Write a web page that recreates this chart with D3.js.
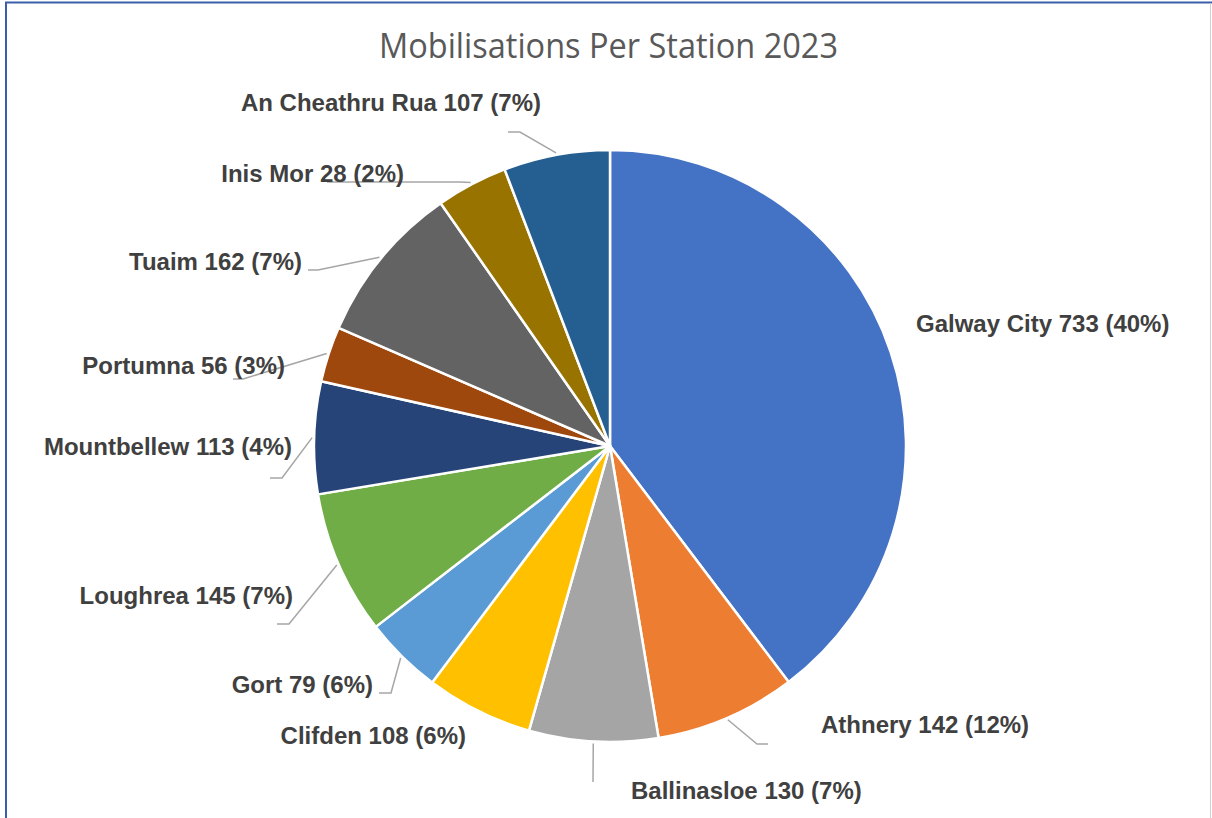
<!DOCTYPE html>
<html>
<head>
  <meta charset="UTF-8">
  <title>Mobilisations Per Station 2023</title>
  <script src="https://cdnjs.cloudflare.com/ajax/libs/d3/7.8.5/d3.min.js"></script>
<style type="text/css">
  html, body {
    margin: 0;
    padding: 0;
    background: #fff;
  }
  svg#pie-chart {
    display: block;
  }
  .title {
    font-family: "Open Sans", "Liberation Sans", sans-serif;
    font-size: 35px;
    fill: #595959;
  }
  .slice-label {
    font-family: "Liberation Sans", Arial, sans-serif;
    font-weight: bold;
    font-size: 24px;
    fill: #404040;
  }
</style>
</head>
<body>
  <svg id="pie-chart"></svg>

<script type="text/javascript">
// Stations, in the order the slices run clockwise from 12 o'clock
var stations = ["Galway City", "Athnery", "Ballinasloe", "Clifden", "Gort", "Loughrea",
                "Mountbellew", "Portumna", "Tuaim", "Inis Mor", "An Cheathru Rua"];
// Numbers printed in the data labels
var labelCounts = [733, 142, 130, 108, 79, 145, 113, 56, 162, 28, 107];
var labelPercents = ["40%", "12%", "7%", "6%", "6%", "7%", "4%", "3%", "7%", "2%", "7%"];
// Slice sizes as drawn (Inis Mor's slice is wider than its label says)
var sliceValues = [733, 142, 130, 108, 79, 145, 113, 56, 162, 72, 107];
var sliceColours = ["#4472C4", "#ED7D31", "#A5A5A5", "#FFC000", "#5B9BD5", "#70AD47",
                    "#264478", "#9E480E", "#636363", "#997300", "#255E91"];

// Label placement: text anchor point and leader line bend / end points
var labelLayout = [
  { x: 916,  y: 332, anchor: "start", leader: null },
  { x: 821,  y: 733, anchor: "start", leader: [[757, 744], [768, 744]] },
  { x: 631,  y: 799, anchor: "start", leader: [[593, 782]] },
  { x: 466,  y: 744, anchor: "end",   leader: null },
  { x: 373,  y: 693, anchor: "end",   leader: [[391, 693], [379, 693]] },
  { x: 293,  y: 604, anchor: "end",   leader: [[289, 624], [277, 624]] },
  { x: 292,  y: 455, anchor: "end",   leader: [[282, 478], [270, 478]] },
  { x: 285,  y: 374, anchor: "end",   leader: [[243, 379], [233, 379]] },
  { x: 302,  y: 270, anchor: "end",   leader: [[318, 270], [308, 270]] },
  { x: 404,  y: 182, anchor: "end",   leader: [[460, 182], [327, 182]] },
  { x: 541,  y: 111, anchor: "end",   leader: [[520, 132], [508, 132]] }
];

var width = 1212,
    height = 818,
    cx = 610,
    cy = 446,
    radius = 296;

var svg = d3.select("#pie-chart")
  .attr("width", width)
  .attr("height", height);

// Chart frame
svg.append("line")
  .attr("x1", 5).attr("y1", 2.5).attr("x2", 1212).attr("y2", 2.5)
  .attr("stroke", "#3A5FA8").attr("stroke-width", 2);
svg.append("line")
  .attr("x1", 6).attr("y1", 2).attr("x2", 6).attr("y2", height)
  .attr("stroke", "#3A5FA8").attr("stroke-width", 2);
svg.append("line")
  .attr("x1", 1210.5).attr("y1", 3).attr("x2", 1210.5).attr("y2", height)
  .attr("stroke", "#D0D0D0").attr("stroke-width", 1);

// Title
svg.append("text")
  .attr("class", "title")
  .attr("x", 608.5)
  .attr("y", 58)
  .attr("text-anchor", "middle")
  .attr("textLength", 459)
  .attr("lengthAdjust", "spacingAndGlyphs")
  .text("Mobilisations Per Station 2023");

var pie = d3.pie()
  .value(function (d) { return d; })
  .sort(null);

var arc = d3.arc()
  .innerRadius(0)
  .outerRadius(radius);

// Point on the rim where a leader line starts
var rimArc = d3.arc()
  .innerRadius(radius + 2)
  .outerRadius(radius + 2);

var arcs = pie(sliceValues);

var g = svg.append("g")
  .attr("transform", "translate(" + cx + "," + cy + ")");

g.selectAll(".slice")
  .data(arcs)
  .enter().append("path")
  .attr("class", "slice")
  .attr("d", arc)
  .attr("fill", function (d, i) { return sliceColours[i]; })
  .attr("stroke", "#fff")
  .attr("stroke-width", 2.5)
  .attr("stroke-linejoin", "round");

// Leader lines
var line = d3.line();
arcs.forEach(function (d, i) {
  var lay = labelLayout[i];
  if (!lay.leader) return;
  var c = rimArc.centroid(d);
  var pts = [[cx + c[0], cy + c[1]]].concat(lay.leader);
  svg.append("path")
    .attr("d", line(pts))
    .attr("fill", "none")
    .attr("stroke", "#A6A6A6")
    .attr("stroke-width", 1.5);
});

// Data labels
svg.selectAll(".slice-label")
  .data(stations)
  .enter().append("text")
  .attr("class", "slice-label")
  .attr("x", function (d, i) { return labelLayout[i].x; })
  .attr("y", function (d, i) { return labelLayout[i].y; })
  .attr("text-anchor", function (d, i) { return labelLayout[i].anchor; })
  .text(function (d, i) { return d + " " + labelCounts[i] + " (" + labelPercents[i] + ")"; });
</script>
</body>
</html>
